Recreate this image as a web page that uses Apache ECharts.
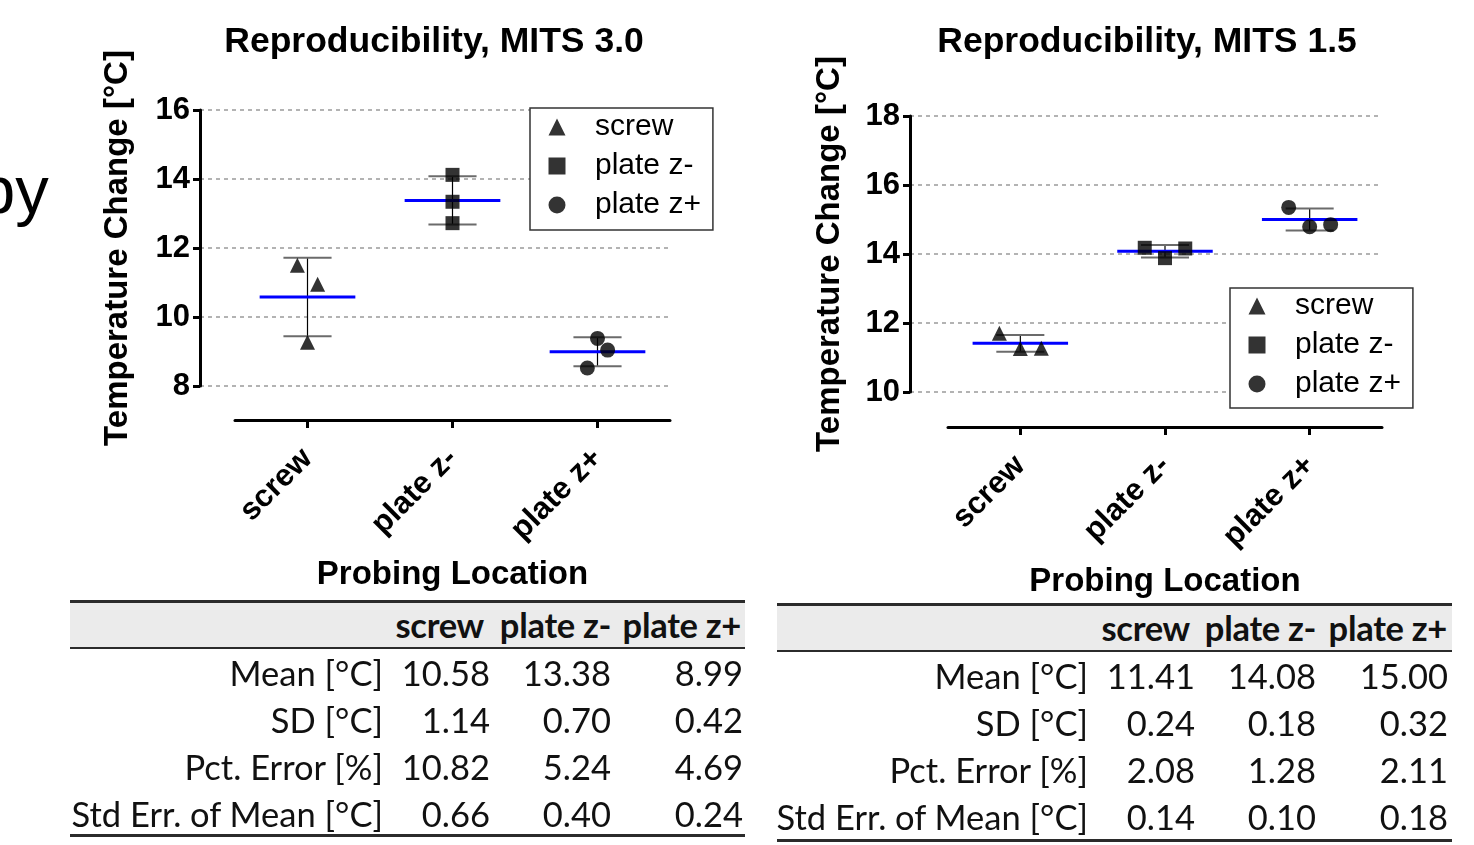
<!DOCTYPE html>
<html><head><meta charset="utf-8">
<script src="https://cdn.jsdelivr.net/npm/echarts@6/dist/echarts.min.js"></script>
<style>
body{margin:0;background:#fff;}
#c{position:absolute;left:0;top:0;width:1474px;height:845px;}
.tbl{position:absolute;width:675px;height:245px;font-family:Lato,"Open Sans",sans-serif;color:#111;}
.tbl div{position:absolute;white-space:nowrap;}
.rule{left:0;width:675px;height:2.5px;background:#2b2b2b;}
.band{left:0;width:675px;background:#ebebeb;}
.cell{line-height:40px;height:40px;font-size:34.5px;}
.hd{font-weight:bold;letter-spacing:-0.3px;}
</style></head><body>
<div id="c"></div>
<div id="t1" class="tbl" style="left:70px;top:600px;"></div>
<div id="t2" class="tbl" style="left:777px;top:603px;"></div>
<script>
// ---------- data ----------
const categories = ['screw', 'plate z-', 'plate z+'];
const titles = ['Reproducibility, MITS 3.0', 'Reproducibility, MITS 1.5'];
const yName = 'Temperature Change [°C]';
const xName = 'Probing Location';
const yTicks30 = [8, 10, 12, 14, 16];
const yTicks15 = [10, 12, 14, 16, 18];

const screw30 = [11.50, 10.95, 9.27];
const plateMinus30 = [14.12, 13.34, 12.72];
const platePlus30 = [9.38, 9.04, 8.52];
const screw15 = [11.70, 11.26, 11.27];
const plateMinus15 = [14.18, 13.88, 14.16];
const platePlus15 = [15.35, 14.79, 14.85];
// horizontal jitter of the points (category units)
const jitterScrew30 = [-0.07, 0.07, 0];
const jitterMinus30 = [0, 0, 0];
const jitterPlus30 = [0, 0.07, -0.07];
const jitterScrew15 = [-0.145, 0, 0.145];
const jitterMinus15 = [-0.14, 0, 0.14];
const jitterPlus15 = [-0.145, 0, 0.145];

// summary statistics (table + mean/SD bars)
const rowLabels = ['Mean [°C]', 'SD [°C]', 'Pct. Error [%]', 'Std Err. of Mean [°C]'];
const mean30 = [10.58, 13.38, 8.99];
const sd30 = [1.14, 0.70, 0.42];
const pct30 = [10.82, 5.24, 4.69];
const sem30 = [0.66, 0.40, 0.24];
const mean15 = [11.41, 14.08, 15.00];
const sd15 = [0.24, 0.18, 0.32];
const pct15 = [2.08, 1.28, 2.11];
const sem15 = [0.14, 0.10, 0.18];

// ---------- chart ----------
const FONT = '"Liberation Sans", Arial, sans-serif';
const chart = echarts.init(document.getElementById('c'), null, {renderer: 'canvas'});

function pts(vals, jit, idx) { return vals.map((v, k) => [idx + jit[k], v]); }

function errRender(params, api) {
  const i = api.value(0), m = api.value(1), s = api.value(2);
  const bw = api.size([1, 0])[0];
  const top = api.coord([i, m + s]), bot = api.coord([i, m - s]), mid = api.coord([i, m]);
  const capHalf = bw * 0.166, meanHalf = bw * 0.33;
  return {type: 'group', children: [
    {type: 'line', shape: {x1: top[0], y1: top[1], x2: bot[0], y2: bot[1]}, style: {stroke: '#000', lineWidth: 1.2}},
    {type: 'line', shape: {x1: top[0] - capHalf, y1: top[1], x2: top[0] + capHalf, y2: top[1]}, style: {stroke: '#6b6b6b', lineWidth: 2}},
    {type: 'line', shape: {x1: bot[0] - capHalf, y1: bot[1], x2: bot[0] + capHalf, y2: bot[1]}, style: {stroke: '#6b6b6b', lineWidth: 2}},
    {type: 'line', shape: {x1: mid[0] - meanHalf, y1: mid[1], x2: mid[0] + meanHalf, y2: mid[1]}, style: {stroke: '#0000ff', lineWidth: 3}}
  ]};
}

function visibleY(grid, ticks, gap) {
  return {gridIndex: grid, type: 'value', min: ticks[0], max: ticks[ticks.length - 1], interval: ticks[1] - ticks[0],
    name: yName, nameLocation: 'middle', nameRotate: 90, nameGap: gap,
    nameTextStyle: {fontFamily: FONT, fontWeight: 'bold', fontSize: 33, color: '#000'},
    axisLine: {show: true, lineStyle: {color: '#000', width: 3}},
    axisTick: {show: true, length: 7, lineStyle: {color: '#000', width: 3}},
    axisLabel: {fontFamily: FONT, fontWeight: 'bold', fontSize: 31, color: '#000', margin: 10},
    splitLine: {show: true, lineStyle: {color: '#9a9a9a', width: 1.5, type: [4, 4]}}};
}
function hiddenY(grid, ticks) {
  return {gridIndex: grid, type: 'value', min: ticks[0], max: ticks[ticks.length - 1], show: false, splitLine: {show: false}};
}
function catX(grid, offset) {
  return {gridIndex: grid, type: 'category', data: categories, position: 'bottom', offset: offset,
    name: xName, nameLocation: 'middle', nameGap: 138,
    nameTextStyle: {fontFamily: FONT, fontWeight: 'bold', fontSize: 33, color: '#000'},
    axisLine: {show: true, onZero: false, lineStyle: {color: '#000', width: 3}},
    axisTick: {show: true, alignWithLabel: true, length: 8, lineStyle: {color: '#000', width: 3}},
    axisLabel: {rotate: 45, fontFamily: FONT, fontWeight: 'bold', fontSize: 31, color: '#000', margin: 34, interval: 0},
    splitLine: {show: false}};
}
function valX(grid) {
  return {gridIndex: grid, type: 'value', min: -0.5, max: 2.5, show: false, splitLine: {show: false}};
}
function legendAt(left, top, padTop, padBottom) {
  return {data: categories, orient: 'vertical', left: left, top: top, selectedMode: false,
    itemWidth: 17, itemHeight: 17, itemGap: 9, padding: [padTop, 12, padBottom, 18.5],
    borderColor: '#333', borderWidth: 1.5, backgroundColor: '#fff',
    textStyle: {fontFamily: FONT, fontSize: 30, color: '#000', lineHeight: 30, padding: [0, 0, 0, 24.5]}};
}
const symbols = ['triangle', 'rect', 'circle'];
function scatterSeries(name, k, data, xi, yi) {
  return {name: name, type: 'scatter', xAxisIndex: xi, yAxisIndex: yi, symbol: symbols[k], symbolSize: k === 1 ? 14 : 15,
    symbolKeepAspect: true, itemStyle: {color: '#000'}, data: data, z: 5};
}

const option = {
  animation: false,
  graphic: [
    {type: 'text', x: -22, y: 161, style: {text: 'py', font: '67px ' + FONT, fill: '#000', align: 'left', verticalAlign: 'top'}},
    {type: 'text', x: 434, y: 42, style: {text: titles[0], font: 'bold 35.5px ' + FONT, fill: '#000', align: 'center', verticalAlign: 'middle'}},
    {type: 'text', x: 1147, y: 42, style: {text: titles[1], font: 'bold 35.5px ' + FONT, fill: '#000', align: 'center', verticalAlign: 'middle'}}
  ],
  grid: [
    {left: 200, top: 110, width: 470, height: 276},
    {left: 235, top: 110, width: 435, height: 276},
    {left: 910, top: 116, width: 472, height: 276},
    {left: 948, top: 116, width: 434, height: 276}
  ],
  xAxis: [
    {gridIndex: 0, type: 'value', show: false, min: 0, max: 1, splitLine: {show: false}},
    catX(1, 34),
    valX(1),
    {gridIndex: 2, type: 'value', show: false, min: 0, max: 1, splitLine: {show: false}},
    catX(3, 35),
    valX(3)
  ],
  yAxis: [
    visibleY(0, yTicks30, 66),
    hiddenY(1, yTicks30),
    visibleY(2, yTicks15, 64),
    hiddenY(3, yTicks15)
  ],
  legend: [legendAt(530, 108, 4, 10), legendAt(1230, 288, 3, 9)],
  series: [
    {type: 'custom', xAxisIndex: 2, yAxisIndex: 1, renderItem: errRender, z: 2,
      data: mean30.map((m, i) => [i, m, sd30[i]])},
    scatterSeries(categories[0], 0, pts(screw30, jitterScrew30, 0), 2, 1),
    scatterSeries(categories[1], 1, pts(plateMinus30, jitterMinus30, 1), 2, 1),
    scatterSeries(categories[2], 2, pts(platePlus30, jitterPlus30, 2), 2, 1),
    {type: 'custom', xAxisIndex: 5, yAxisIndex: 3, renderItem: errRender, z: 2,
      data: mean15.map((m, i) => [i, m, sd15[i]])},
    scatterSeries(categories[0], 0, pts(screw15, jitterScrew15, 0), 5, 3),
    scatterSeries(categories[1], 1, pts(plateMinus15, jitterMinus15, 1), 5, 3),
    scatterSeries(categories[2], 2, pts(platePlus15, jitterPlus15, 2), 5, 3)
  ]
};
chart.setOption(option);

// ---------- tables ----------
function buildTable(el, stats, headRights, labelRight, numRights, bottomRule) {
  let h = '';
  h += '<div class="rule" style="top:0"></div>';
  h += '<div class="band" style="top:2.5px;height:44px"></div>';
  h += '<div class="rule" style="top:46.5px"></div>';
  categories.forEach((c, i) => {
    h += '<div class="cell hd" style="top:5px;right:' + (675 - headRights[i]) + 'px">' + c + '</div>';
  });
  const rowCenters = [73, 120, 167, 214];
  rowLabels.forEach((lab, r) => {
    const top = rowCenters[r] - 20;
    h += '<div class="cell" style="top:' + top + 'px;right:' + (675 - labelRight) + 'px">' + lab + '</div>';
    stats[r].forEach((v, i) => {
      h += '<div class="cell" style="top:' + top + 'px;right:' + (675 - numRights[i]) + 'px">' + v.toFixed(2) + '</div>';
    });
  });
  h += '<div class="rule" style="top:' + bottomRule + 'px"></div>';
  el.innerHTML = h;
}
buildTable(document.getElementById('t1'), [mean30, sd30, pct30, sem30], [414, 541, 671], 313, [420, 541, 673], 234);
buildTable(document.getElementById('t2'), [mean15, sd15, pct15, sem15], [413, 539, 670], 311, [418, 539, 671], 236);
</script>
</body></html>
